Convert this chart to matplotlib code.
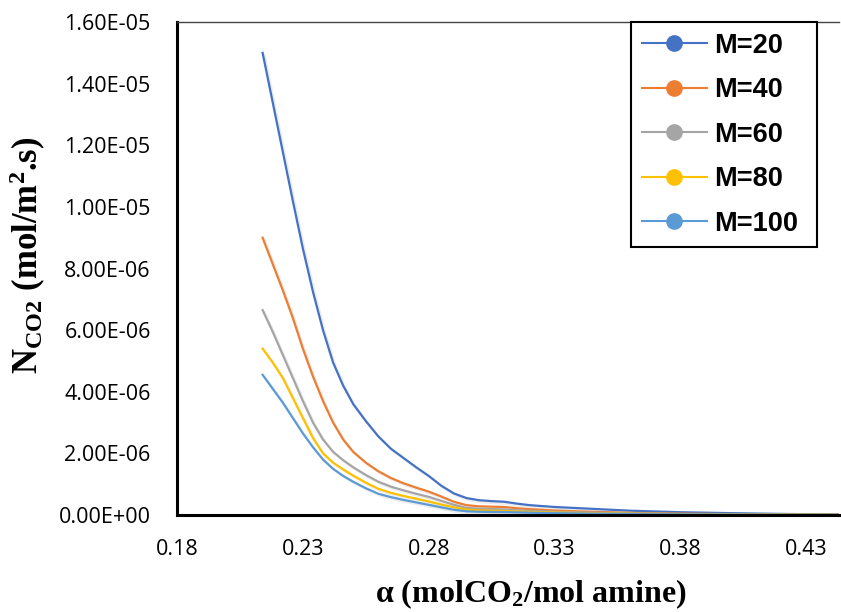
import numpy as np
import matplotlib
matplotlib.use('Agg')
import matplotlib.pyplot as plt
import matplotlib.patheffects as pe
from matplotlib.lines import Line2D
from matplotlib.ticker import FuncFormatter, MultipleLocator

# loading (alpha) values
alpha = [0.214, 0.218, 0.222, 0.226, 0.230, 0.234, 0.238, 0.242, 0.246, 0.250,
         0.255, 0.260, 0.265, 0.270, 0.275, 0.280, 0.285, 0.290, 0.295, 0.300,
         0.305, 0.310, 0.315, 0.320, 0.330, 0.340, 0.360, 0.380, 0.400, 0.420, 0.443]

# CO2 flux for each M
n_m20 = [1.50e-5, 1.34e-5, 1.18e-5, 1.02e-5, 8.65e-6, 7.25e-6, 6.0e-6, 4.95e-6, 4.2e-6, 3.6e-6,
         3.05e-6, 2.55e-6, 2.15e-6, 1.85e-6, 1.55e-6, 1.27e-6, 9.5e-7, 7.0e-7, 5.5e-7, 4.8e-7,
         4.5e-7, 4.3e-7, 3.7e-7, 3.2e-7, 2.6e-7, 2.2e-7, 1.4e-7, 9e-8, 6e-8, 3.5e-8, 1.5e-8]
n_m40 = [9.0e-6, 8.15e-6, 7.3e-6, 6.4e-6, 5.4e-6, 4.5e-6, 3.7e-6, 3.0e-6, 2.45e-6, 2.05e-6,
         1.7e-6, 1.42e-6, 1.2e-6, 1.03e-6, 8.9e-7, 7.6e-7, 6.0e-7, 4.3e-7, 3.2e-7, 2.8e-7,
         2.7e-7, 2.6e-7, 2.2e-7, 1.9e-7, 1.45e-7, 1.15e-7, 7e-8, 4.5e-8, 3e-8, 1.8e-8, 8e-9]
n_m60 = [6.65e-6, 5.95e-6, 5.2e-6, 4.45e-6, 3.7e-6, 3.0e-6, 2.45e-6, 2.05e-6, 1.78e-6, 1.55e-6,
         1.3e-6, 1.08e-6, 9.2e-7, 8.0e-7, 6.9e-7, 5.9e-7, 4.6e-7, 3.3e-7, 2.3e-7, 2.0e-7,
         1.9e-7, 1.8e-7, 1.55e-7, 1.35e-7, 1.05e-7, 8.5e-8, 5e-8, 3.2e-8, 2.1e-8, 1.3e-8, 6e-9]
n_m80 = [5.4e-6, 4.95e-6, 4.45e-6, 3.8e-6, 3.15e-6, 2.5e-6, 2.0e-6, 1.7e-6, 1.48e-6, 1.28e-6,
         1.05e-6, 8.5e-7, 7.2e-7, 6.2e-7, 5.3e-7, 4.4e-7, 3.4e-7, 2.5e-7, 1.75e-7, 1.5e-7,
         1.4e-7, 1.3e-7, 1.15e-7, 1.0e-7, 8e-8, 6.5e-8, 4e-8, 2.6e-8, 1.7e-8, 1.0e-8, 5e-9]
n_m100 = [4.55e-6, 4.1e-6, 3.65e-6, 3.15e-6, 2.65e-6, 2.2e-6, 1.8e-6, 1.5e-6, 1.27e-6, 1.08e-6,
          8.7e-7, 6.9e-7, 5.8e-7, 4.9e-7, 4.1e-7, 3.3e-7, 2.5e-7, 1.7e-7, 1.2e-7, 1.05e-7,
          1.0e-7, 9.5e-8, 8.5e-8, 7.5e-8, 6e-8, 5e-8, 3e-8, 2e-8, 1.3e-8, 8e-9, 4e-9]

labels = ["M=20", "M=40", "M=60", "M=80", "M=100"]
colors = ["#4472C4", "#ED7D31", "#A5A5A5", "#FFC000", "#5B9BD5"]
series = [n_m20, n_m40, n_m60, n_m80, n_m100]
xticks = [0.18, 0.23, 0.28, 0.33, 0.38, 0.43]

plt.rcParams['mathtext.fontset'] = 'custom'
plt.rcParams['mathtext.rm'] = 'Liberation Serif'
plt.rcParams['mathtext.bf'] = 'Liberation Serif:bold'
plt.rcParams['mathtext.it'] = 'Liberation Serif:italic'

fig = plt.figure(figsize=(8.41, 6.12), dpi=100)
ax = fig.add_axes([0.2105, 0.1585, 0.787, 0.8055])

shadow = [pe.SimpleLineShadow(offset=(1.5, -1.5), alpha=0.15, shadow_color='gray'), pe.Normal()]
for y, c in zip(series, colors):
    ax.plot(alpha, y, color=c, linewidth=1.6, solid_joinstyle='round', path_effects=shadow)

ax.set_xlim(0.18, 0.443)
ax.set_ylim(0, 1.6e-5)
ax.set_xticks(xticks)
ax.yaxis.set_major_locator(MultipleLocator(2e-6))
ax.xaxis.set_major_formatter(FuncFormatter(lambda v, p: f"{v:.2f}"))
ax.yaxis.set_major_formatter(FuncFormatter(lambda v, p: f"{v:.2E}"))

ax.spines['right'].set_visible(False)
ax.spines['top'].set_linewidth(1.0)
ax.spines['top'].set_color('#444444')
ax.spines['left'].set_linewidth(2.2)
ax.spines['bottom'].set_linewidth(2.2)

ax.tick_params(axis='both', length=0, labelsize=15.5)
ax.tick_params(axis='x', pad=17)
ax.tick_params(axis='y', pad=19)
for lab in ax.get_xticklabels() + ax.get_yticklabels():
    lab.set_fontfamily('Open Sans')

ax.set_ylabel(r"$\mathbf{N_{CO2}}$ (mol/m$\mathbf{^2}$.s)", fontsize=25,
              fontweight='bold', family='Liberation Serif')
ax.set_xlabel(r"α (molCO$\mathbf{_2}$/mol amine)", fontsize=23,
              fontweight='bold', family='Liberation Serif')
ax.yaxis.set_label_coords(-0.195, 0.527)
ax.xaxis.set_label_coords(0.535, -0.126)

handles = [Line2D([], [], color=c, linewidth=1.5, marker='o', markersize=11,
                  markerfacecolor=c, markeredgecolor=c) for c in colors]
leg = ax.legend(handles, labels, loc='upper left', bbox_to_anchor=(0.686, 0.0, 0.281, 1.0),
                mode='expand', borderaxespad=0, fancybox=False, framealpha=1,
                edgecolor='black', handlelength=2.4, handletextpad=0.28,
                labelspacing=0.68, borderpad=0.4,
                prop={'family': 'Liberation Sans', 'weight': 'bold', 'size': 19.5})
leg.get_frame().set_linewidth(1.5)

fig.savefig("out.png", dpi=100)
